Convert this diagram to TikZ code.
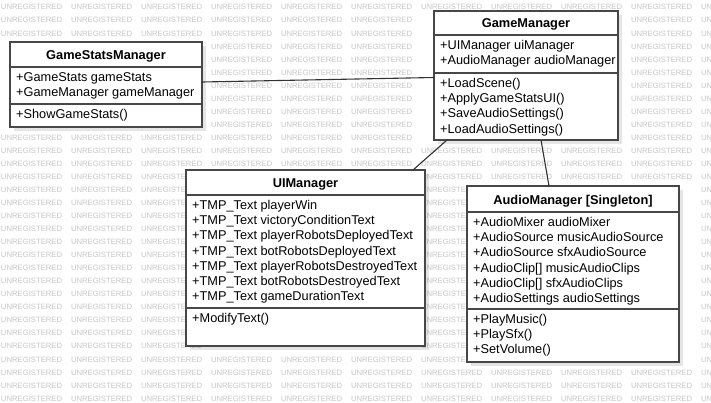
\documentclass[tikz,border=0pt]{standalone}
\usepackage{fontspec}
\setmainfont{Liberation Sans}
\usetikzlibrary{shadows}
\begin{document}
\begin{tikzpicture}[x=1pt,y=-1pt,
  wm/.style={anchor=west, inner sep=0pt, text=black!22, font=\fontsize{7.7}{8}\selectfont},
  classbox/.style={rectangle, draw=black!72, line width=1.2pt, fill=white, inner sep=0pt, outer sep=0pt,
    drop shadow={shadow xshift=4pt, shadow yshift=-4pt, opacity=0.1, fill=black}},
  title/.style={anchor=base, inner sep=0pt, font=\fontsize{12.8}{15}\selectfont\bfseries},
  member/.style={anchor=base west, inner sep=0pt, font=\fontsize{12.75}{15}\selectfont},
  divider/.style={draw=black!72, line width=1.2pt},
  assoc/.style={draw=black!80, line width=1.1pt}]

% canvas
\fill[white] (0,0) rectangle (711,402);
\useasboundingbox (0,0) rectangle (711,402);

% tool watermark, left out where a class box hides it
\foreach \r in {0,...,30}
  \foreach \c in {0,...,10} {
    \pgfmathsetmacro\wx{0.8+70*\c}
    \pgfmathsetmacro\xc{\wx+30.5}
    \pgfmathsetmacro\wy{7.3+13.04*\r}
    \pgfmathtruncatemacro\hid{((\xc>=10)&&(\xc<=206)&&(\wy>=42)&&(\wy<=131))
      || ((\xc>=434)&&(\xc<=622)&&(\wy>=11)&&(\wy<=144))
      || ((\xc>=186)&&(\xc<=429)&&(\wy>=170)&&(\wy<=350))
      || ((\xc>=467)&&(\xc<=683)&&(\wy>=186)&&(\wy<=366))}
    \ifnum\hid=0
      \node[wm] (wm-\r-\c) at (\wx,\wy) {UNREGISTERED};
    \fi
  }

% class boxes
\node[classbox, minimum width=192pt, minimum height=85pt] (gsm) at (106,84.5) {};
\node[classbox, minimum width=184pt, minimum height=129pt] (gm) at (526,75.5) {};
\node[classbox, minimum width=239pt, minimum height=176pt] (ui) at (305.5,258) {};
\node[classbox, minimum width=212pt, minimum height=176pt] (am) at (573,274) {};

% associations
\draw[assoc] ([yshift=2.5pt]gsm.east) -- ([yshift=-2pt]gm.west);
\draw[assoc] ([xshift=-79pt]gm.south) -- ([xshift=107.5pt]ui.north);
\draw[assoc] ([xshift=15pt]gm.south) -- ([xshift=-24pt]am.north);

% compartment dividers
\draw[divider] (gsm.west |- 0,67) -- (gsm.east |- 0,67);
\draw[divider] (gsm.west |- 0,104) -- (gsm.east |- 0,104);
\draw[divider] (gm.west |- 0,35) -- (gm.east |- 0,35);
\draw[divider] (gm.west |- 0,73) -- (gm.east |- 0,73);
\draw[divider] (ui.west |- 0,195) -- (ui.east |- 0,195);
\draw[divider] (ui.west |- 0,308) -- (ui.east |- 0,308);
\draw[divider] (am.west |- 0,212) -- (am.east |- 0,212);
\draw[divider] (am.west |- 0,309) -- (am.east |- 0,309);

% GameStatsManager
\node[title] (gsm-t) at (106,59.5) {GameStatsManager};
\node[member] (gsm-a1) at (16,81.7) {+GameStats gameStats};
\node[member] (gsm-a2) at (16,96.9) {+GameManager gameManager};
\node[member] (gsm-m1) at (16,118.7) {+ShowGameStats()};

% GameManager
\node[title] (gm-t) at (526,27.8) {GameManager};
\node[member] (gm-a1) at (440,49.5) {+UIManager uiManager};
\node[member] (gm-a2) at (440,64.7) {+AudioManager audioManager};
\node[member] (gm-m1) at (440,87.5) {+LoadScene()};
\node[member] (gm-m2) at (440,102.7) {+ApplyGameStatsUI()};
\node[member] (gm-m3) at (440,117.9) {+SaveAudioSettings()};
\node[member] (gm-m4) at (440,133.1) {+LoadAudioSettings()};

% UIManager
\node[title] (ui-t) at (305.5,187.5) {UIManager};
\node[member] (ui-a1) at (192,209.5) {+TMP\_Text playerWin};
\node[member] (ui-a2) at (192,224.7) {+TMP\_Text victoryConditionText};
\node[member] (ui-a3) at (192,239.9) {+TMP\_Text playerRobotsDeployedText};
\node[member] (ui-a4) at (192,255.1) {+TMP\_Text botRobotsDeployedText};
\node[member] (ui-a5) at (192,270.3) {+TMP\_Text playerRobotsDestroyedText};
\node[member] (ui-a6) at (192,285.5) {+TMP\_Text botRobotsDestroyedText};
\node[member] (ui-a7) at (192,300.7) {+TMP\_Text gameDurationText};
\node[member] (ui-m1) at (192,322.5) {+ModifyText()};

% AudioManager
\node[title] (am-t) at (573,204) {AudioManager [Singleton]};
\node[member] (am-a1) at (473,226.5) {+AudioMixer audioMixer};
\node[member] (am-a2) at (473,241.7) {+AudioSource musicAudioSource};
\node[member] (am-a3) at (473,256.9) {+AudioSource sfxAudioSource};
\node[member] (am-a4) at (473,272.1) {+AudioClip[] musicAudioClips};
\node[member] (am-a5) at (473,287.3) {+AudioClip[] sfxAudioClips};
\node[member] (am-a6) at (473,302.5) {+AudioSettings audioSettings};
\node[member] (am-m1) at (473,323.5) {+PlayMusic()};
\node[member] (am-m2) at (473,338.7) {+PlaySfx()};
\node[member] (am-m3) at (473,353.9) {+SetVolume()};
\end{tikzpicture}
\end{document}
